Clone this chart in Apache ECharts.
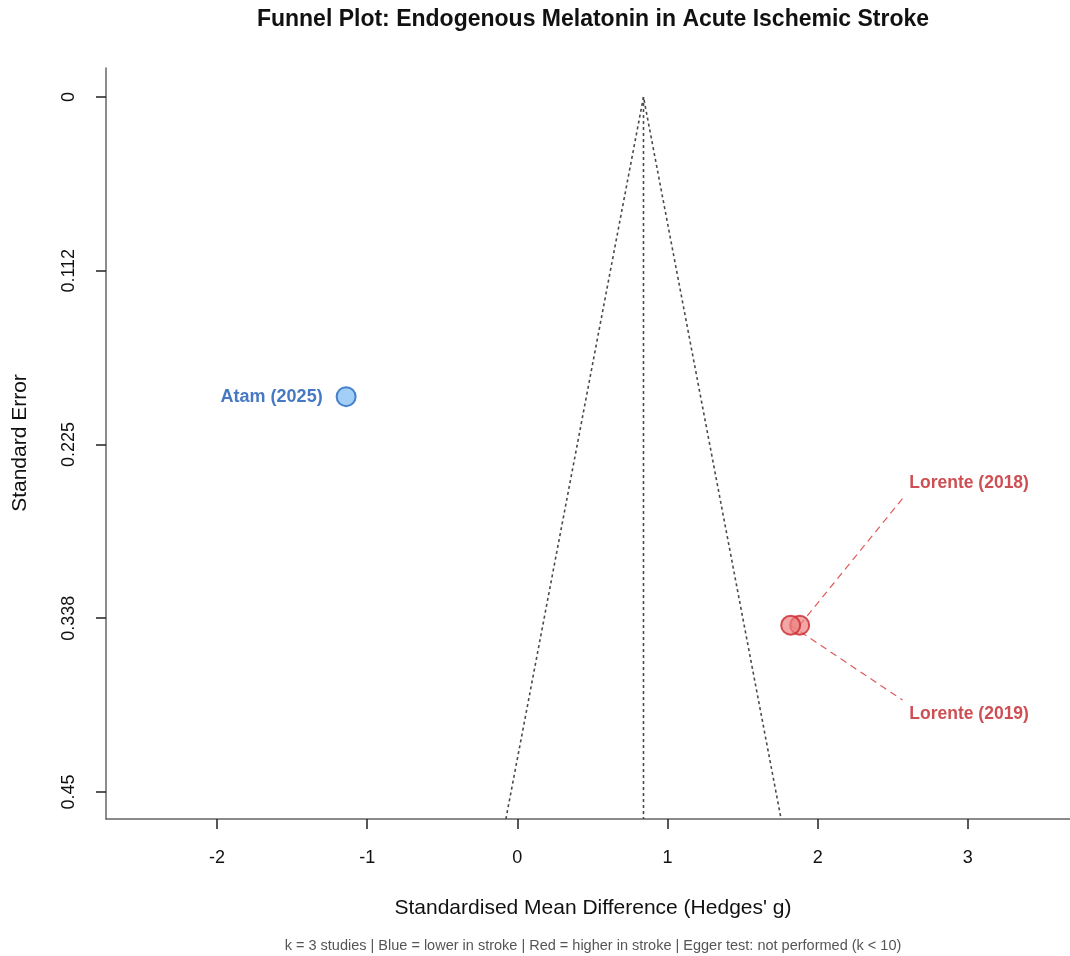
<!DOCTYPE html>
<html>
<head>
<meta charset="utf-8">
<script src="https://cdn.jsdelivr.net/npm/echarts@6/dist/echarts.min.js"></script>
<style>
  html, body { margin: 0; padding: 0; background: #ffffff; }
  #chart { width: 1070px; height: 956px; }
</style>
</head>
<body>
<div id="chart"></div>
<script>
// ---- data ----
const studies = ['Atam (2025)', 'Lorente (2018)', 'Lorente (2019)'];
const effects = [-1.14, 1.88, 1.82];           // Hedges' g
const stdErrors = [0.194, 0.342, 0.342];       // standard error
const direction = ['lower', 'higher', 'higher'];
const pooledEstimate = [0.84];
const labelX = [null, 2.61, 2.61];
const labelSE = [null, 0.250, 0.3995];
const leaderEndX = [null, 2.565, 2.565];
const leaderEndSE = [null, 0.260, 0.3905];
const xTicks = [-2, -1, 0, 1, 2, 3];
const yTicks = [0, 0.1125, 0.225, 0.3375, 0.45];
const yTickLabels = ['0', '0.112', '0.225', '0.338', '0.45'];

const xMin = -2.739, xMax = 3.68;
const yMin = -0.0188, yMax = 0.4675;

const FONT = 'Liberation Sans';
const BLUE_FILL = '#8CC3F4', BLUE_EDGE = '#2166C0', BLUE_TEXT = '#1858B4';
const RED_FILL = 'rgba(236,128,128,0.88)', RED_EDGE = '#C9282D', RED_TEXT = '#C22328';

const est = pooledEstimate[0];
const funnelData = [
  [est - 1.96 * yMax, yMax],
  [est, 0],
  [est + 1.96 * yMax, yMax]
];
const centerData = [[est, 0], [est, yMax]];

const pts = studies.map((s, i) => ({
  name: s,
  value: [effects[i], stdErrors[i]],
  itemStyle: direction[i] === 'lower'
    ? { color: BLUE_FILL, borderColor: BLUE_EDGE, borderWidth: 2 }
    : { color: RED_FILL, borderColor: RED_EDGE, borderWidth: 2 }
}));

const series = [
  {
    type: 'line', data: funnelData, symbol: 'none', silent: true,
    lineStyle: { color: '#4a4a4a', width: 1.6, type: [3, 3] }, z: 2
  },
  {
    type: 'line', data: centerData, symbol: 'none', silent: true,
    lineStyle: { color: '#4a4a4a', width: 1.6, type: [3, 3] }, z: 2
  }
];

// leader lines
studies.forEach((s, i) => {
  if (leaderEndX[i] === null) return;
  series.push({
    type: 'line', symbol: 'none', silent: true, z: 3,
    data: [[effects[i], stdErrors[i]], [leaderEndX[i], leaderEndSE[i]]],
    lineStyle: { color: '#E05A5A', width: 1.2, type: [7, 5] }
  });
});

// points
series.push({
  type: 'scatter', data: pts, symbol: 'circle', symbolSize: 19, z: 5,
  label: {
    show: true,
    formatter: p => (p.dataIndex === 0 ? p.name : ''),
    position: 'left', distance: 13,
    color: BLUE_TEXT, fontWeight: 'bold', fontSize: 18, fontFamily: FONT
  }
});

// side labels
series.push({
  type: 'scatter', symbolSize: 0, z: 6, silent: true,
  data: studies.map((s, i) => labelX[i] === null ? null : { name: s, value: [labelX[i], labelSE[i]] }).filter(d => d),
  label: {
    show: true, formatter: p => p.name, position: 'inside',
    align: 'left', verticalAlign: 'middle',
    color: RED_TEXT, fontWeight: 'bold', fontSize: 17.5, fontFamily: FONT
  }
});

const chart = echarts.init(document.getElementById('chart'), null, { renderer: 'canvas' });
chart.setOption({
  animation: false,
  backgroundColor: '#ffffff',
  grid: { left: 106, top: 68, right: 0, bottom: 137, containLabel: false },
  xAxis: {
    type: 'value', min: xMin, max: xMax,
    axisLine: { show: true, onZero: false, lineStyle: { color: '#666', width: 1.5 } },
    axisTick: { show: true, customValues: xTicks, length: 10, inside: false, lineStyle: { color: '#222', width: 1.5 } },
    axisLabel: { customValues: xTicks, margin: 30, fontSize: 18, color: '#111', fontFamily: FONT,
      formatter: v => String(v) },
    splitLine: { show: false }
  },
  yAxis: {
    type: 'value', inverse: true, min: yMin, max: yMax,
    axisLine: { show: true, onZero: false, lineStyle: { color: '#666', width: 1.5 } },
    axisTick: { show: true, customValues: yTicks, length: 10, lineStyle: { color: '#222', width: 1.5 } },
    axisLabel: { customValues: yTicks, rotate: 90, margin: 28, fontSize: 18, color: '#111', fontFamily: FONT,
      formatter: v => { const i = yTicks.findIndex(t => Math.abs(t - v) < 1e-6); return i >= 0 ? yTickLabels[i] : ''; } },
    splitLine: { show: false }
  },
  graphic: [
    { type: 'text', x: 593, y: 20, style: {
      text: 'Funnel Plot: Endogenous Melatonin in Acute Ischemic Stroke',
      fontFamily: FONT, fontWeight: 'bold', fontSize: 23, fill: '#111',
      align: 'center', verticalAlign: 'middle' } },
    { type: 'text', x: 593, y: 908, style: {
      text: "Standardised Mean Difference (Hedges' g)", fontFamily: FONT, fontSize: 21, fill: '#111',
      align: 'center', verticalAlign: 'middle' } },
    { type: 'text', x: 20, y: 443, rotation: Math.PI / 2, style: {
      text: 'Standard Error', fontFamily: FONT, fontSize: 21, fill: '#111',
      align: 'center', verticalAlign: 'middle' } },
    { type: 'text', x: 593, y: 946, style: {
      text: 'k = 3 studies | Blue = lower in stroke | Red = higher in stroke | Egger test: not performed (k < 10)',
      fontFamily: FONT, fontSize: 14.5, fill: '#555', align: 'center', verticalAlign: 'middle' } }
  ],
  series: series
});
</script>
</body>
</html>
